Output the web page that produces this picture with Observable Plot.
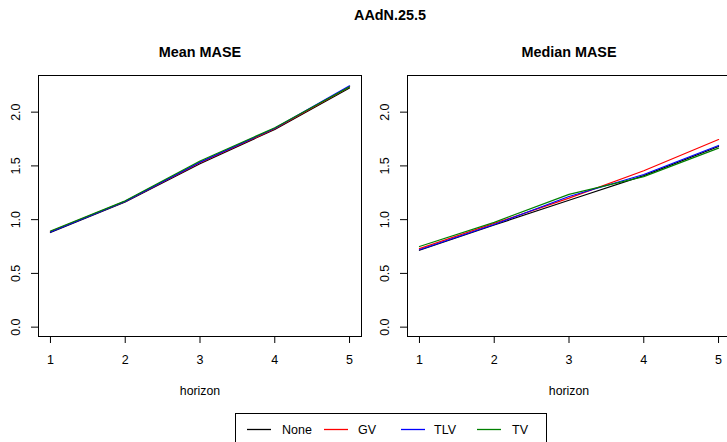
<!DOCTYPE html>
<html>
<head>
<meta charset="utf-8">
<script src="https://cdn.jsdelivr.net/npm/d3@7"></script>
<script src="https://cdn.jsdelivr.net/npm/@observablehq/plot@0.6"></script>
<style>
  html, body { margin: 0; padding: 0; background: white; overflow: hidden; }
  #root { position: relative; width: 727px; height: 442px; overflow: hidden; font-family: "Liberation Sans", Arial, sans-serif; color: black; }
  #title { position: absolute; left: 0; width: 780px; top: 6px; text-align: center; font-weight: bold; font-size: 14.4px; line-height: 18px; }
  .panel { position: absolute; top: 30px; width: 370px; height: 375px; }
  .panel svg { max-width: none !important; display: block; }
  #legend { position: absolute; left: 235px; top: 413px; width: 312px; height: 40px; border: 1px solid black; box-sizing: border-box; background: white; }
  #legend svg { position: absolute; left: 0; top: 0; }
  .lg-text { position: absolute; top: 8px; font-size: 12.5px; line-height: 16px; }
</style>
</head>
<body>
<div id="root">
  <div id="title">AAdN.25.5</div>
  <div id="p1" class="panel" style="left:0px"></div>
  <div id="p2" class="panel" style="left:369px"></div>
  <div id="legend"></div>
</div>
<script>
const horizons = [1, 2, 3, 4, 5];
const series = ["None", "GV", "TLV", "TV"];
const yTicks = [0, 0.5, 1, 1.5, 2];

const meanNone = [0.88, 1.165, 1.52, 1.84, 2.225];
const meanGV   = [0.89, 1.17, 1.53, 1.845, 2.235];
const meanTLV  = [0.885, 1.17, 1.535, 1.85, 2.245];
const meanTV   = [0.895, 1.175, 1.545, 1.855, 2.235];

const medianNone = [0.715, 0.95, 1.18, 1.41, 1.68];
const medianGV   = [0.73, 0.965, 1.20, 1.455, 1.745];
const medianTLV  = [0.72, 0.955, 1.215, 1.42, 1.69];
const medianTV   = [0.75, 0.975, 1.235, 1.40, 1.665];

const palette = ["black", "red", "blue", "#008000"];

function panel(title, values) {
  const rows = series.flatMap((s, i) => horizons.map((h, j) => ({series: s, horizon: h, value: values[i][j]})));
  return Plot.plot({
    width: 370, height: 375,
    marginLeft: 38, marginRight: 9, marginTop: 45, marginBottom: 69,
    style: {fontFamily: "'Liberation Sans', Arial, sans-serif", fontSize: "12px", color: "black", background: "white", overflow: "visible", maxWidth: "none"},
    x: {domain: [0.84, 5.16]},
    y: {domain: [-0.087, 2.341]},
    color: {domain: series, range: palette},
    marks: [
      Plot.frame({stroke: "black"}),
      Plot.axisX(horizons, {tickSize: 7, tickPadding: 12, label: null, tickFormat: d => String(d), fontSize: 12.5}),
      Plot.axisY(yTicks, {tickSize: 7, tickFormat: () => "", label: null}),
      Plot.text(yTicks, {y: d => d, frameAnchor: "left", dx: -23, rotate: -90, text: d => d.toFixed(1), textAnchor: "middle", lineAnchor: "middle", fontSize: 12.5}),
      Plot.line(rows, {x: "horizon", y: "value", z: "series", stroke: "series", strokeWidth: 1.2}),
      Plot.text([title], {frameAnchor: "top", dy: -23, lineAnchor: "middle", fontWeight: "bold", fontSize: 14.4, text: d => d}),
      Plot.text(["horizon"], {frameAnchor: "bottom", dy: 55, lineAnchor: "middle", fontSize: 12.3, text: d => d})
    ]
  });
}

document.getElementById("p1").appendChild(panel("Mean MASE", [meanNone, meanGV, meanTLV, meanTV]));
document.getElementById("p2").appendChild(panel("Median MASE", [medianNone, medianGV, medianTLV, medianTV]));

// legend
const lg = document.getElementById("legend");
const lineX = [11, 88, 165, 241];
const textX = [46, 122, 198, 276];
const NS = "http://www.w3.org/2000/svg";
const lsvg = document.createElementNS(NS, "svg");
lsvg.setAttribute("width", 310);
lsvg.setAttribute("height", 38);
series.forEach((s, i) => {
  const l = document.createElementNS(NS, "line");
  l.setAttribute("x1", lineX[i]);
  l.setAttribute("x2", lineX[i] + 24);
  l.setAttribute("y1", 15.5);
  l.setAttribute("y2", 15.5);
  l.setAttribute("stroke", palette[i]);
  l.setAttribute("stroke-width", 1.3);
  lsvg.appendChild(l);
  const t = document.createElement("div");
  t.className = "lg-text";
  t.style.left = textX[i] + "px";
  t.textContent = s;
  lg.appendChild(t);
});
lg.appendChild(lsvg);
</script>
</body>
</html>
